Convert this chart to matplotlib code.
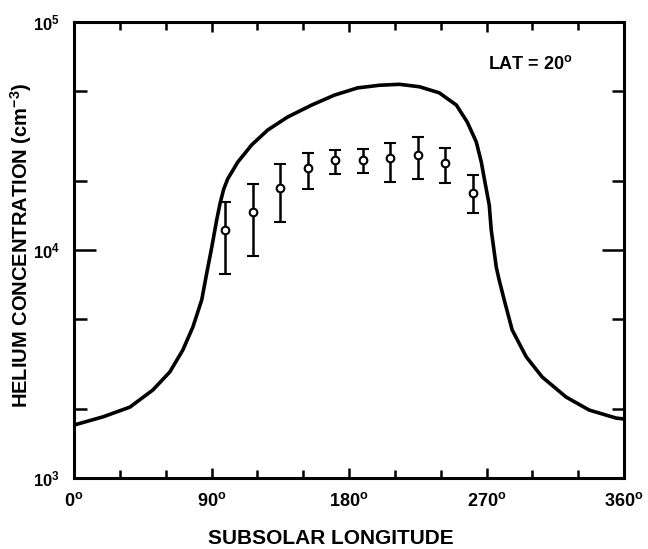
import matplotlib
matplotlib.use("Agg")
import matplotlib.pyplot as plt
from matplotlib.ticker import FixedLocator, NullFormatter

plt.rcParams["font.family"] = ["Liberation Sans", "DejaVu Sans"]
plt.rcParams["font.weight"] = "bold"
plt.rcParams["mathtext.fontset"] = "custom"
plt.rcParams["mathtext.rm"] = "Liberation Sans:bold"
plt.rcParams["mathtext.bf"] = "Liberation Sans:bold"
plt.rcParams["mathtext.it"] = "Liberation Sans:bold"
plt.rcParams["mathtext.default"] = "bf"

# model curve (subsolar longitude in degrees, helium concentration in cm^-3)
model_lon = [0, 18.9, 36.6, 51.6, 62.7, 71.2, 77.8, 83.6, 86.9, 90.2, 93.4,
             95.6, 98.0, 100.6, 107.2, 116.3, 126.8, 139.8, 155.5, 170.5,
             185.6, 200.0, 213.0, 226.1, 239.1, 250.3, 257.4, 263.3, 266.6,
             268.9, 271.8, 273.1, 276.4, 278.3, 281.6, 286.8, 296.0, 306.4,
             322.1, 337.2, 354.8, 360]
model_he = [1707, 1854, 2046, 2432, 2917, 3638, 4590, 6040, 7930, 10310, 13550,
            16000, 18500, 20500, 24300, 28900, 33600, 38300, 43200, 47800,
            51400, 52800, 53300, 52000, 48900, 43200, 36400, 29800, 24300,
            20000, 15740, 12250, 8410, 7380, 6040, 4460, 3400, 2775,
            2265, 1986, 1832, 1815]

# measurements with error bars
obs_lon = [99, 117, 135, 153, 171, 189, 207, 225, 243, 261]
obs_he = [12250, 14700, 18700, 22900, 24800, 24800, 25350, 26100, 24100, 17800]
obs_hi = [16250, 19460, 23800, 26600, 27470, 27750, 29450, 31300, 28000, 21330]
obs_lo = [7850, 9420, 13280, 18520, 21500, 21760, 19870, 20470, 19680, 14520]

xtick_vals = [0, 90, 180, 270, 360]
xtick_labels = [r"$0^{o}$", r"$90^{o}$", r"$180^{o}$", r"$270^{o}$", r"$360^{o}$"]
ytick_vals = [1e3, 1e4, 1e5]
ytick_labels = [r"$10^{3}$", r"$10^{4}$", r"$10^{5}$"]

fig = plt.figure(figsize=(6.48, 5.49), dpi=100)
ax = fig.add_axes([74 / 648, 71 / 549, 550 / 648, 456 / 549])

ax.plot(model_lon, model_he, color="black", linewidth=2.6,
        solid_joinstyle="round", solid_capstyle="round")

yerr = [[c - lo for c, lo in zip(obs_he, obs_lo)],
        [hi - c for c, hi in zip(obs_he, obs_hi)]]
ax.errorbar(obs_lon, obs_he, yerr=yerr, fmt="o", color="black", ecolor="black",
            elinewidth=1.8, capsize=4.5, capthick=1.8, markersize=5.5,
            markerfacecolor="white", markeredgewidth=1.5, zorder=3)

ax.set_yscale("log")
ax.set_xlim(0, 360)
ax.set_ylim(1e3, 1e5)

ax.set_xticks(xtick_vals)
ax.set_xticklabels(xtick_labels, fontsize=13)
ax.xaxis.set_minor_locator(FixedLocator([30, 60, 120, 150, 210, 240, 300, 330]))
ax.set_yticks(ytick_vals)
ax.set_yticklabels(ytick_labels, fontsize=12)
ax.yaxis.set_minor_locator(FixedLocator([2e3, 5e3, 2e4, 5e4]))
ax.yaxis.set_minor_formatter(NullFormatter())

ax.tick_params(which="both", direction="in", top=True, right=True, width=1.8)
ax.tick_params(axis="x", which="major", length=7, pad=10)
ax.tick_params(axis="x", which="minor", length=6)
ax.tick_params(axis="y", which="major", length=16, pad=10)
ax.tick_params(axis="y", which="minor", length=9)

for spine in ax.spines.values():
    spine.set_linewidth(2.2)

ax.text(488 / 648, 1 - 64 / 549, r"LAT = 20$^{o}$", transform=fig.transFigure,
        fontsize=13, fontweight="bold", ha="left", va="center")

fig.text(331 / 648, 1 - 538 / 549, "SUBSOLAR LONGITUDE", fontsize=15,
         fontweight="bold", ha="center", va="center")
fig.text(21 / 648, 1 - 245 / 549, r"HELIUM CONCENTRATION (cm$^{-3}$)", fontsize=14.5,
         fontweight="bold", ha="center", va="center", rotation=90)

fig.savefig("out.png", dpi=100, facecolor="white")
